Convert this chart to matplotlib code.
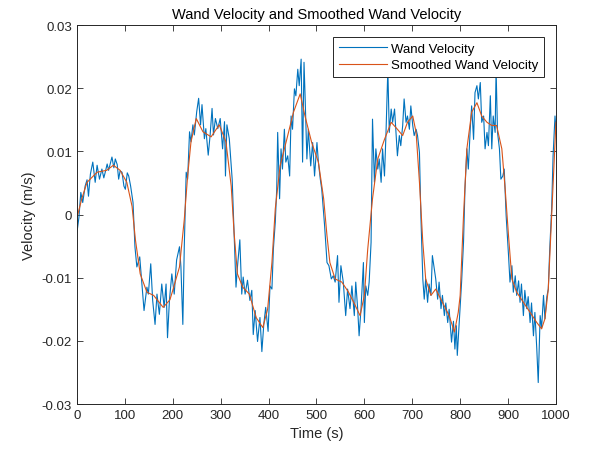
import matplotlib
matplotlib.use('Agg')
import matplotlib.pyplot as plt
import numpy as np

# ── data (velocity values in units of 1e-3 m/s) ──
t_raw = [
    0, 4, 8, 12, 17, 21, 24, 28, 33, 38, 42, 47, 52, 56, 59, 63, 66, 70, 73, 77, 80, 84, 87, 90, 94,
    98, 101, 105, 108, 112, 117, 121, 125, 131, 135, 140, 146, 149, 154, 158, 163, 167, 172,
    177, 182, 186, 189, 193, 198,
    203, 208, 214, 217, 221, 224, 228, 231, 235, 238, 242, 245, 250, 254, 258, 261, 266, 269,
    274, 278, 282, 285, 289, 294, 299, 304, 308, 310, 313, 318, 324, 328, 332, 335, 340, 344,
    347, 351, 356, 361, 365, 368, 372, 377, 382, 386, 390, 394, 399,
    403, 407, 410, 414, 417, 419, 423, 426, 429, 433, 436, 440, 444, 447, 450, 454, 457, 461,
    464, 468, 471, 474, 476, 480, 483, 488, 492, 496, 501, 504, 508, 511, 517, 522, 526, 531,
    535, 539, 544, 547, 551, 556, 561, 565, 570, 574, 579, 582, 586, 589, 593, 598,
    600, 603, 607, 610, 614, 617, 621, 624, 628, 631, 635, 638, 642, 645, 649, 652, 656, 659,
    663, 666, 669, 673, 676, 680, 683, 687, 690, 694, 697, 701, 704, 708, 711, 715, 718, 722,
    725, 728, 732, 735, 739, 742, 746, 749, 753, 756, 760, 763, 767, 770, 774, 777, 782, 786,
    789, 792, 794, 798,
    803, 807, 810, 814, 817, 821, 824, 828, 831, 835, 838, 842, 845, 849, 852, 856, 859, 863,
    866, 869, 873, 875, 878, 882, 885, 889, 892, 896, 901, 904, 908, 911, 915, 918, 922, 925,
    928, 932, 935, 939, 942, 946, 949, 953, 956, 960, 963, 967, 970, 974, 977, 981, 984, 987,
    991, 994, 998, 1000,
]
v_raw = [
    -2.8, -0.5, 3.5, 1.9, 4.5, 5.5, 2.9, 6.4, 8.3, 5.1, 7.8, 5.6, 7.2, 5.8, 6.7, 8.0, 7.0, 8.2, 9.1, 7.4, 8.8, 7.9, 5.6, 6.9, 6.7,
    4.5, 4.0, 6.6, 6.1, 4.5, 1.9, -5.1, -8.3, -6.7, -10.4, -15.2, -11.5, -12.6, -7.8, -13.6, -17.4, -12.6, -15.8,
    -11.0, -14.7, -11.0, -19.5, -13.6, -9.4,
    -12.6, -7.2, -5.1, -8.3, -17.4, -5.1, 6.7, 5.6, 13.1, 11.5, 14.2, 12.6, 16.3, 18.4, 14.2, 17.4, 12.0, 13.6,
    9.4, 12.6, 16.8, 12.6, 15.2, 13.6, 15.2, 10.4, 14.7, 6.1, 14.2, 12.0, 5.6, -2.9, -11.5, -8.3, -4.0, -12.6,
    -9.9, -12.6, -10.4, -13.6, -12.0, -19.0, -15.2, -20.1, -16.3, -21.7, -17.4, -14.7, -18.5,
    -11.3, -11.8, -5.5, -1.2, 4.0, 13.0, 2.5, 10.4, 7.2, 13.5, 8.3, 9.3, 6.1, 15.6, 13.5, 19.9, 18.8, 23.0,
    20.4, 24.6, 8.3, 24.1, 19.3, 8.8, 13.5, 7.7, 11.4, 6.1, 11.4, 8.3, 5.6, 4.0, -1.8, -7.6, -8.1, -10.2,
    -9.7, -10.7, -6.5, -13.9, -8.1, -10.7, -16.0, -11.8, -14.9, -11.3, -16.0, -10.7, -14.9, -19.2, -14.9, -7.6,
    -17.1, -11.3, -12.8, -10.7, -4.4, 15.1, 5.1, 10.4, 7.2, 8.8, 5.1, 10.4, 6.1, 12.5, 23.0, 13.0, 16.7, 14.6,
    16.7, 13.0, 9.3, 12.5, 10.9, 14.1, 18.3, 14.6, 15.6, 13.5, 17.2, 14.1, 12.5, 13.5, 12.5, 9.8, -0.2, -10.2,
    -13.4, -10.2, -13.9, -11.0, -12.8, -6.5, -8.6, -10.2, -13.4, -10.7, -14.9, -12.8, -16.0, -14.0, -17.1, -15.0, -20.2, -16.9,
    -21.3, -17.6, -22.3, -17.1,
    -10.7, -4.4, 4.0, 10.4, 7.2, 13.5, 17.2, 11.9, 19.3, 20.4, 18.3, 20.9, 14.6, 15.6, 10.4, 13.0, 10.9, 18.8,
    10.4, 15.6, 13.0, 23.0, 13.0, 10.4, 5.6, 6.1, 7.2, -0.2, -6.5, -10.7, -8.1, -12.3, -9.7, -12.8, -10.5, -13.9,
    -11.0, -16.0, -12.0, -14.9, -13.0, -17.1, -14.0, -19.2, -15.5, -21.3, -26.6, -16.0, -18.0, -12.8, -16.5, -13.0, -11.8, -5.5,
    0.9, 9.3, 15.6, 13.5,
]

t_smooth = [
    0, 10, 21, 42, 62, 76, 90, 104, 115, 122, 132, 146, 160, 180, 194,
    200, 214, 224, 231, 238, 249, 263, 280, 297, 311, 322, 328, 335, 346, 360, 374, 388, 398,
    407, 414, 424, 438, 452, 466, 476, 490, 504, 515, 522, 528, 539, 553, 567, 581, 591,
    600, 607, 617, 628, 642, 656, 669, 680, 690, 701, 708, 715, 722, 728, 739, 749, 763, 777, 788, 796,
    800, 807, 814, 824, 835, 845, 856, 866, 876, 887, 894, 901, 908, 918, 932, 946, 960, 970, 977,
    984, 991, 1000,
]
v_smooth = [
    -0.5, 2.5, 5.1, 6.7, 7.0, 7.8, 7.0, 5.1, 1.3, -4.0, -9.4, -12.3, -12.8, -14.7, -13.5,
    -12.0, -8.3, -0.8, 6.1, 11.5, 15.2, 13.1, 12.3, 14.2, 11.5, 4.5, -2.9, -9.4, -11.5, -12.6, -16.3, -17.9, -15.0,
    -7.6, 0.9, 7.7, 11.9, 16.2, 19.1, 15.6, 11.4, 8.3, 2.5, -3.4, -7.6, -10.2, -10.7, -12.3, -14.4, -16.0,
    -12.8, -5.5, 2.5, 8.8, 11.9, 14.6, 13.5, 12.5, 14.6, 15.6, 13.0, 5.1, -4.4, -10.2, -12.8, -11.8, -13.9, -16.0, -18.6, -15.5,
    -12.8, -0.2, 10.4, 16.2, 17.7, 15.6, 14.6, 14.1, 14.1, 10.4, 4.0, -3.4, -10.2, -12.3, -13.9, -15.5, -17.1, -18.1, -16.5,
    -11.8, -0.2, 14.6,
]

x_ticks = [0, 100, 200, 300, 400, 500, 600, 700, 800, 900, 1000]
y_ticks = [-0.03, -0.02, -0.01, 0, 0.01, 0.02, 0.03]
y_tick_labels = ['-0.03', '-0.02', '-0.01', '0', '0.01', '0.02', '0.03']

plt.rcParams['font.family'] = ['Liberation Sans', 'DejaVu Sans']
dark = '#262626'

fig = plt.figure(figsize=(5.89, 4.56), dpi=100)
ax = fig.add_axes([0.1307, 0.1118, 0.8132, 0.8311])

ax.plot(t_raw, np.array(v_raw) * 1e-3, color='#0072BD', linewidth=0.8, label='Wand Velocity')
ax.plot(t_smooth, np.array(v_smooth) * 1e-3, color='#D95319', linewidth=0.8, label='Smoothed Wand Velocity')

ax.set_xlim(0, 1000)
ax.set_ylim(-0.03, 0.03)
ax.set_xticks(x_ticks)
ax.set_yticks(y_ticks)
ax.set_yticklabels(y_tick_labels)
ax.tick_params(direction='in', top=True, right=True, length=4, width=0.6,
               colors=dark, labelsize=9.5)
for s in ax.spines.values():
    s.set_color(dark)
    s.set_linewidth(0.7)

ax.set_xlabel('Time (s)', fontsize=10.5, color=dark)
ax.set_ylabel('Velocity (m/s)', fontsize=10.5, color=dark)
ax.set_title('Wand Velocity and Smoothed Wand Velocity', fontsize=10.5, color='black', pad=5)

leg = ax.legend(loc='upper right', fontsize=9.5, fancybox=False, framealpha=1,
                edgecolor=dark, borderpad=0.45, labelspacing=0.3, handlelength=3.6,
                handletextpad=0.3, borderaxespad=0.9)
leg.get_frame().set_linewidth(0.7)

fig.savefig('out.png', dpi=100)
